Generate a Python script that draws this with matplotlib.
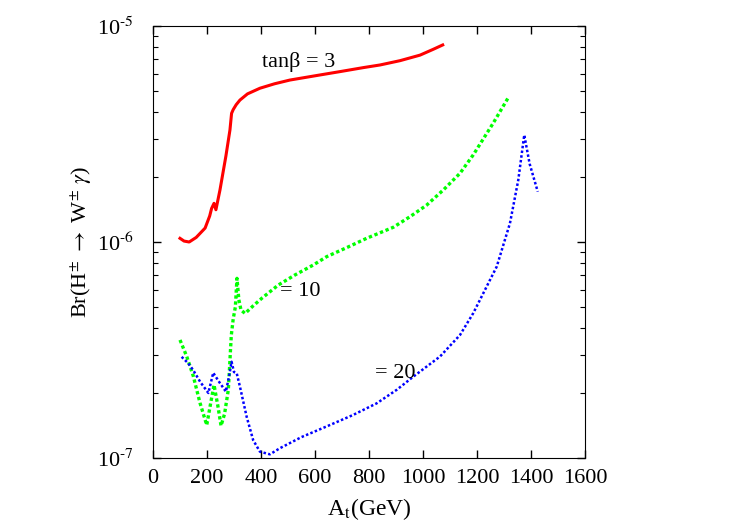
import numpy as np
import matplotlib
matplotlib.use("Agg")
import matplotlib.pyplot as plt
from matplotlib.ticker import FuncFormatter

plt.rcParams['font.family'] = ['Liberation Serif', 'DejaVu Serif']
plt.rcParams['mathtext.fontset'] = 'stix'

# tan(beta) = 3
x_tb3 = [100, 115, 134, 160, 193, 210, 217, 226, 233, 248, 270, 285, 291, 297,
         308, 322, 350, 396, 450, 507, 600, 693, 780, 841, 915, 989, 1038, 1073]
y_tb3 = [1.04e-6, 1.01e-6, 1.0e-6, 1.05e-6, 1.16e-6, 1.32e-6, 1.43e-6, 1.51e-6,
         1.41e-6, 1.74e-6, 2.5e-6, 3.3e-6, 3.94e-6, 4.1e-6, 4.32e-6, 4.54e-6,
         4.85e-6, 5.15e-6, 5.4e-6, 5.62e-6, 5.88e-6, 6.15e-6, 6.42e-6, 6.6e-6,
         6.91e-6, 7.33e-6, 7.8e-6, 8.17e-6]

# tan(beta) = 10
x_tb10 = [100, 125, 149, 174, 199, 212, 226, 240, 252, 265, 279, 290, 297, 305,
          311, 318, 326, 341, 370, 403, 464, 526, 594, 643, 720, 791, 890, 952,
          1013, 1075, 1137, 1186, 1260, 1318]
y_tb10 = [3.52e-7, 2.95e-7, 2.4e-7, 1.8e-7, 1.42e-7, 1.75e-7, 2.18e-7, 1.75e-7,
          1.41e-7, 1.6e-7, 2.07e-7, 3.7e-7, 4.4e-7, 5.0e-7, 6.79e-7, 5.4e-7,
          4.84e-7, 4.67e-7, 5.05e-7, 5.49e-7, 6.32e-7, 7.04e-7, 7.83e-7, 8.55e-7,
          9.45e-7, 1.04e-6, 1.17e-6, 1.31e-6, 1.48e-6, 1.74e-6, 2.08e-6, 2.53e-6,
          3.55e-6, 4.71e-6]

# tan(beta) = 20
x_tb20 = [106, 130, 149, 175, 205, 215, 223, 245, 270, 282, 291, 300, 310, 322,
          347, 371, 396, 433, 470, 550, 643, 740, 828, 903, 964, 1063, 1137, 1186,
          1273, 1322, 1353, 1375, 1395, 1425]
y_tb20 = [2.94e-7, 2.75e-7, 2.55e-7, 2.25e-7, 2.0e-7, 2.25e-7, 2.48e-7, 2.25e-7,
          2.03e-7, 2.4e-7, 2.79e-7, 2.5e-7, 2.47e-7, 2.14e-7, 1.55e-7, 1.21e-7,
          1.07e-7, 1.04e-7, 1.11e-7, 1.25e-7, 1.40e-7, 1.58e-7, 1.79e-7, 2.07e-7,
          2.38e-7, 2.95e-7, 3.71e-7, 4.68e-7, 7.69e-7, 1.22e-6, 1.94e-6, 3.13e-6,
          2.3e-6, 1.71e-6]


def pow10_label(v, pos):
    n = int(round(np.log10(v)))
    return r'10$^{\text{-}%d}$' % abs(n)


fig = plt.figure(figsize=(7.5, 5.25), dpi=100)
ax = fig.add_axes([0.204, 0.1276, 0.576, 0.8229])

ax.plot(x_tb3, y_tb3, color='#ff0000', lw=2.2, solid_joinstyle='round')
ax.plot(x_tb10, y_tb10, color='#00ff00', lw=2.4, linestyle=(0, (1, 0.8)))
ax.plot(x_tb20, y_tb20, color='#0000ff', lw=1.8, linestyle=(0, (1, 0.9)))

ax.set_yscale('log')
ax.set_xlim(0, 1600)
ax.set_ylim(1e-7, 1e-5)
ax.set_xticks(np.arange(0, 1601, 200))
ax.set_yticks([1e-7, 1e-6, 1e-5])
ax.yaxis.set_major_formatter(FuncFormatter(pow10_label))

ax.tick_params(which='both', direction='in', top=True, right=True, labelsize=16)
ax.tick_params(which='major', length=6, width=1)
ax.tick_params(which='minor', length=3.5, width=0.8)
ax.tick_params(axis='y', pad=14)
ax.tick_params(axis='x', pad=8)

ax.text(403, 6.84e-6, 'tanβ = 3', fontsize=16, va='center')
ax.text(470, 5.89e-7, '= 10', fontsize=16, va='center')
ax.text(822, 2.47e-7, '= 20', fontsize=16, va='center')

ax.set_xlabel(r'A$_{\rm t}$(GeV)', fontsize=17, labelpad=6)
ax.set_ylabel(r'Br(H$^{\pm}$ $\rightarrow$ W$^{\pm}$ $\gamma$)', fontsize=16)
ax.yaxis.set_label_coords(-0.135, 0.5)

fig.savefig('out.png', dpi=100)
